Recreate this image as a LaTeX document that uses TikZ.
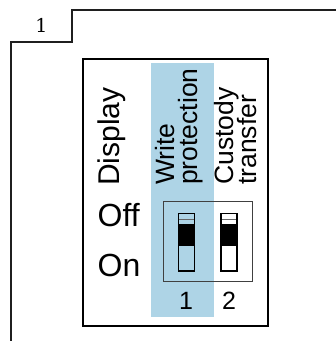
\documentclass[tikz,border=0pt]{standalone}
\usepackage{fontspec}
\setmainfont{Liberation Sans}
\newfontfamily\tagfont{DejaVu Serif}
\definecolor{wpblue}{RGB}{174,212,230}
\begin{document}
\begin{tikzpicture}[x=1pt,y=-1pt,
  outerframe/.style={line width=1.2pt, draw=black!88},
  panel/.style={line width=1.3pt, draw=black},
  housing/.style={line width=1pt, draw=black!75},
  switchbody/.style={line width=1.3pt, draw=black},
  vlabel/.style={inner sep=0pt, rotate=90, anchor=base west, font=\fontsize{26.5}{26.5}\selectfont},
  hlabel/.style={inner sep=0pt, anchor=base west, font=\fontsize{32}{32}\selectfont},
  numlabel/.style={inner sep=0pt, anchor=base, font=\fontsize{25}{25}\selectfont}]
\useasboundingbox (0,0) rectangle (336,341);
% outer frame with tab
\draw[outerframe] (336,10) -- (72,10) -- (72,42) -- (11,42) -- (11,341);
\node[inner sep=0pt, anchor=base, font=\fontsize{19}{19}\tagfont] (tag) at (41.5,32) {1};
% panel
\fill[wpblue] (151,63) rectangle (214,317);
\draw[panel] (83,59) rectangle (268,326);
% labels
\node[vlabel, font=\fontsize{30}{30}\selectfont] (display) at (120,186) {Display};
\node[vlabel] (write) at (174,185) {Write};
\node[vlabel] (prot) at (197,185) {protection};
\node[vlabel] (cust) at (233.5,185) {Custody};
\node[vlabel] (trans) at (256.7,185) {transfer};
\node[hlabel] (off) at (97.5,226.5) {Off};
\node[hlabel] (on) at (97.5,276.5) {On};
\node[numlabel] (n1) at (186,309) {1};
\node[numlabel] (n2) at (229,309) {2};
% switch housing
\draw[housing] (163,201) rectangle (252,281);
% switch 1 (transparent)
\fill[black] (178.3,223.5) rectangle (194.3,246);
\draw[black!60, line width=0.8pt] (178.3,219) -- (194.3,219);
\draw[switchbody] (178.3,213.5) rectangle (194.3,271);
% switch 2
\fill[white] (221,213.5) rectangle (237,271);
\fill[black] (221,223.5) rectangle (237,246);
\draw[black!60, line width=0.8pt] (221,219) -- (237,219);
\draw[switchbody] (221,213.5) rectangle (237,271);
\end{tikzpicture}
\end{document}
